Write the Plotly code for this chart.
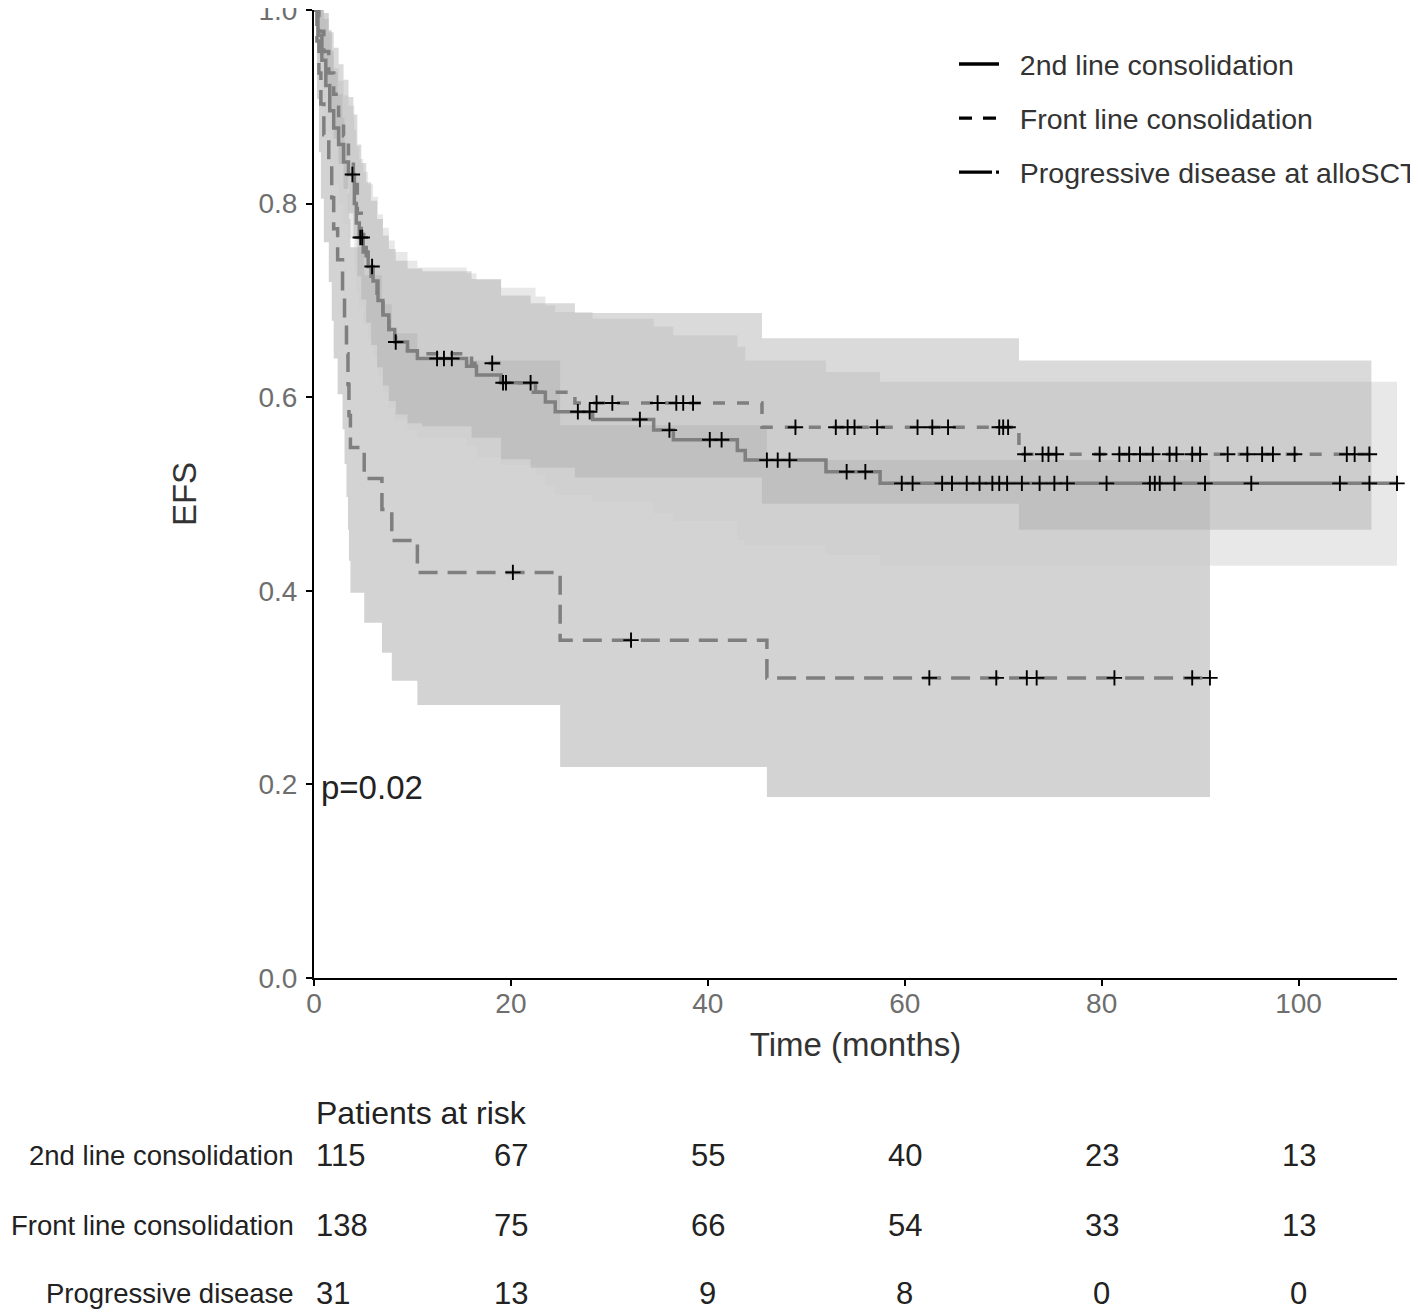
import plotly.graph_objects as go
import numpy as np

# ---------------- data ----------------
groups = ["2nd line consolidation", "Front line consolidation", "Progressive disease at alloSCT"]

# 2nd line consolidation (solid)
sec_t = [0.4, 0.8, 1.2, 1.6, 2.0, 2.5, 3.0, 3.5, 4.1, 4.3, 4.6, 5.0, 5.5, 6.0, 6.5, 7.0, 7.6, 8.2, 9.5, 10.5,
         15.5, 16.5, 19.0, 22.5, 23.5, 24.5, 28.3, 34.5, 36.5, 43.0, 43.8, 52.0, 57.5]
sec_s = [.974, .948, .922, .896, .878, .861, .843, .83, .80, .78, .765, .75, .735, .72, .70, .685, .67, .657, .648, .64,
         .632, .623, .615, .605, .595, .585, .577, .566, .556, .545, .535, .523, .511]
sec_lo = [.945, .908, .874, .842, .820, .800, .779, .764, .730, .708, .692, .675, .659, .642, .621, .605, .589, .576, .566, .558,
          .549, .538, .530, .520, .509, .499, .492, .480, .472, .452, .447, .437, .426]
sec_hi = [1.0, .990, .973, .953, .940, .927, .912, .901, .876, .859, .846, .833, .820, .807, .789, .775, .762, .750, .741, .734,
          .728, .721, .713, .704, .695, .688, .681, .673, .664, .652, .638, .626, .616]
sec_end = 110.0
sec_cens = [3.9, 4.7, 4.9, 5.9, 8.3, 12.5, 13.2, 14.0, 19.2, 19.5, 22.0, 26.8, 28.0, 33.1, 36.1, 40.2, 41.4, 46.0, 47.1, 48.3,
            54.1, 56.0, 59.7, 60.8, 63.8, 64.8, 66.3, 67.6, 68.9, 69.6, 70.4, 71.9, 73.7, 75.2, 76.5, 80.5, 84.9, 85.4,
            85.9, 87.4, 90.5, 95.2, 104.2, 107.2, 110.0]

# Front line consolidation (dashed)
fr_t = [0.5, 1.0, 1.5, 2.0, 2.5, 3.0, 3.5, 4.0, 4.4, 4.8, 5.3, 5.8, 6.4, 7.0, 7.6, 8.3, 9.5, 11.0, 16.0, 19.0,
        22.0, 26.5, 45.5, 71.6]
fr_s = [.978, .957, .935, .913, .891, .87, .848, .826, .79, .768, .746, .725, .703, .685, .67, .657, .648, .645, .635, .615,
        .605, .594, .569, .541]
fr_lo = [.954, .924, .895, .867, .841, .815, .790, .765, .725, .701, .677, .654, .631, .612, .596, .582, .573, .570, .558, .536,
         .527, .517, .490, .463]
fr_hi = [1.0, .991, .977, .961, .944, .928, .910, .892, .861, .842, .822, .803, .784, .767, .753, .741, .733, .730, .722, .705,
         .697, .687, .661, .638]
fr_end = 107.4
fr_cens = [18.1, 28.7, 30.3, 34.9, 36.8, 37.5, 38.5, 48.9, 53.0, 54.2, 54.9, 57.2, 61.3, 62.8, 64.4, 69.6, 70.0, 70.5,
           72.2, 74.0, 74.6, 75.4, 79.8, 81.8, 82.8, 83.9, 85.2, 86.9, 87.6, 89.2, 90.0, 92.8, 94.8, 96.3, 97.4, 99.6,
           104.9, 105.7, 107.2]

# Progressive disease at alloSCT (long dashed)
pd_t = [0.3, 0.5, 0.7, 1.0, 1.5, 1.8, 2.0, 2.4, 2.9, 3.1, 3.3, 3.45, 3.55, 3.7, 5.1, 6.9, 7.9, 10.5, 25.0, 46.0]
pd_s = [.968, .935, .903, .871, .839, .806, .774, .742, .710, .677, .645, .613, .581, .548, .516, .484, .452, .419, .349, .310]
pd_lo = [.908, .853, .805, .760, .719, .679, .640, .603, .567, .531, .497, .463, .431, .398, .367, .336, .307, .282, .218, .187]
pd_hi = [1.0, 1.0, 1.0, .997, .979, .958, .936, .913, .889, .863, .837, .811, .784, .755, .726, .696, .666, .638, .571, .535]
pd_end = 91.0
pd_cens = [20.2, 32.2, 62.5, 69.3, 72.4, 73.4, 81.3, 89.2, 91.0]

# risk table
risk_times = [0, 20, 40, 60, 80, 100]
risk_labels = ["2nd line consolidation", "Front line consolidation", "Progressive disease"]
risk_2nd = [115, 67, 55, 40, 23, 13]
risk_front = [138, 75, 66, 54, 33, 13]
risk_pd = [31, 13, 9, 8, 0, 0]

x_ticks = [0, 20, 40, 60, 80, 100]
y_ticks = [0.0, 0.2, 0.4, 0.6, 0.8, 1.0]
p_text = "p=0.02"

# ---------------- styling ----------------
FONT = "Liberation Sans, Arial, sans-serif"
LINE_COL = "#7f7f7f"
BAND_ALPHA = 0.45
series = [
    dict(name=groups[0], t=sec_t, s=sec_s, lo=sec_lo, hi=sec_hi, end=sec_end, cens=sec_cens,
         dash="solid", fill="rgba(204,204,204,%.2f)" % BAND_ALPHA, leg_dash="solid"),
    dict(name=groups[1], t=fr_t, s=fr_s, lo=fr_lo, hi=fr_hi, end=fr_end, cens=fr_cens,
         dash="12px,12px", fill="rgba(173,173,173,%.2f)" % BAND_ALPHA, leg_dash="13px,11px"),
    dict(name=groups[2], t=pd_t, s=pd_s, lo=pd_lo, hi=pd_hi, end=pd_end, cens=pd_cens,
         dash="19px,10px", fill="rgba(157,157,157,%.2f)" % BAND_ALPHA, leg_dash="33px,4px,3px,10px"),
]


def step_xy(t, v, end, start=1.0):
    xs = [0.0] + list(t) + [end]
    ys = [start] + list(v) + [v[-1]]
    return xs, ys


def step_at(t, v, q):
    arr_t = np.array(t)
    idx = np.searchsorted(arr_t, q, side="right") - 1
    return [1.0 if i < 0 else v[i] for i in idx]


fig = go.Figure()

# confidence bands (drawn: progressive, 2nd line, front line)
for sr in [series[2], series[0], series[1]]:
    xl, yl = step_xy(sr["t"], sr["lo"], sr["end"])
    xh, yh = step_xy(sr["t"], sr["hi"], sr["end"])
    fig.add_trace(go.Scatter(x=xl, y=yl, mode="lines", line=dict(width=0, shape="hv"),
                             showlegend=False, hoverinfo="skip"))
    fig.add_trace(go.Scatter(x=xh, y=yh, mode="lines", line=dict(width=0, shape="hv"),
                             fill="tonexty", fillcolor=sr["fill"], showlegend=False, hoverinfo="skip"))

# survival curves
for sr in series:
    xs, ys = step_xy(sr["t"], sr["s"], sr["end"])
    fig.add_trace(go.Scatter(x=xs, y=ys, mode="lines",
                             line=dict(color=LINE_COL, width=3.5, shape="hv", dash=sr["dash"]),
                             showlegend=False, name=sr["name"], cliponaxis=False))

# censor marks
for sr in series:
    cy = step_at(sr["t"], sr["s"], sr["cens"])
    fig.add_trace(go.Scatter(x=sr["cens"], y=cy, mode="markers",
                             marker=dict(symbol="cross-thin", size=11, line=dict(width=1.9, color="black")),
                             showlegend=False, hoverinfo="skip", cliponaxis=False))

# legend entries (black, like the reference)
for i, sr in enumerate(series):
    fig.add_trace(go.Scatter(x=[None], y=[None], mode="lines", name="\u00a0\u00a0" + sr["name"],
                             legendgroup="g%d" % i,
                             line=dict(color="black", width=3.4, dash=sr["leg_dash"])))

annotations = []
# p-value
annotations.append(dict(x=0.5, y=0.197, xref="x", yref="y", text=p_text, showarrow=False,
                        xanchor="left", yanchor="middle", font=dict(size=33, color="#222", family=FONT)))


# risk table (paper coordinates relative to the plotting area)
def ypx(py):
    return (978 - py) / 968.0


annotations.append(dict(x=0, y=ypx(1113), xref="x", yref="paper", text="Patients at risk", showarrow=False,
                        xanchor="left", yanchor="middle", font=dict(size=32, color="#222", family=FONT)))
for lab, vals, py in zip(risk_labels, [risk_2nd, risk_front, risk_pd], [1155, 1225, 1293]):
    annotations.append(dict(x=-18 / 1083.0, y=ypx(py), xref="paper", yref="paper", text=lab, showarrow=False,
                            xanchor="right", yanchor="middle", font=dict(size=27.5, color="#222", family=FONT)))
    for j, (tt, v) in enumerate(zip(risk_times, vals)):
        annotations.append(dict(x=tt, y=ypx(py), xref="x", yref="paper", text=str(v), showarrow=False,
                                xanchor="left" if j == 0 else "center", yanchor="middle",
                                font=dict(size=31, color="#222", family=FONT)))

fig.update_layout(
    width=1410, height=1305,
    margin=dict(l=306, r=21, t=2, b=335, autoexpand=False),
    paper_bgcolor="white", plot_bgcolor="white",
    font=dict(family=FONT, color="#222"),
    annotations=annotations,
    showlegend=True,
    legend=dict(x=(954 - 314) / 1083.0, y=0.970, xanchor="left", yanchor="top", bgcolor="rgba(0,0,0,0)",
                font=dict(size=28.5, color="#333", family=FONT), tracegroupgap=14,
                itemwidth=40),
    xaxis=dict(range=[0, 110], tickvals=x_ticks, ticks="outside", ticklen=6, tickwidth=2, tickcolor="black",
               showline=True, linecolor="black", linewidth=2, showgrid=False, zeroline=False,
               tickfont=dict(size=28, color="#6e6e6e", family=FONT), ticklabelstandoff=-7,
               title=dict(text="Time (months)", font=dict(size=33, color="#333", family=FONT), standoff=15)),
    yaxis=dict(range=[0, 1], tickvals=y_ticks, tickformat=".1f", ticks="outside", ticklen=6, tickwidth=2,
               tickcolor="black", showline=True, linecolor="black", linewidth=2, showgrid=False, zeroline=False,
               tickfont=dict(size=28, color="#6e6e6e", family=FONT), ticklabelstandoff=3,
               ticklabeloverflow="allow",
               title=dict(text="EFS", font=dict(size=33, color="#333", family=FONT), standoff=52)),
)

fig.write_html("out.html")
